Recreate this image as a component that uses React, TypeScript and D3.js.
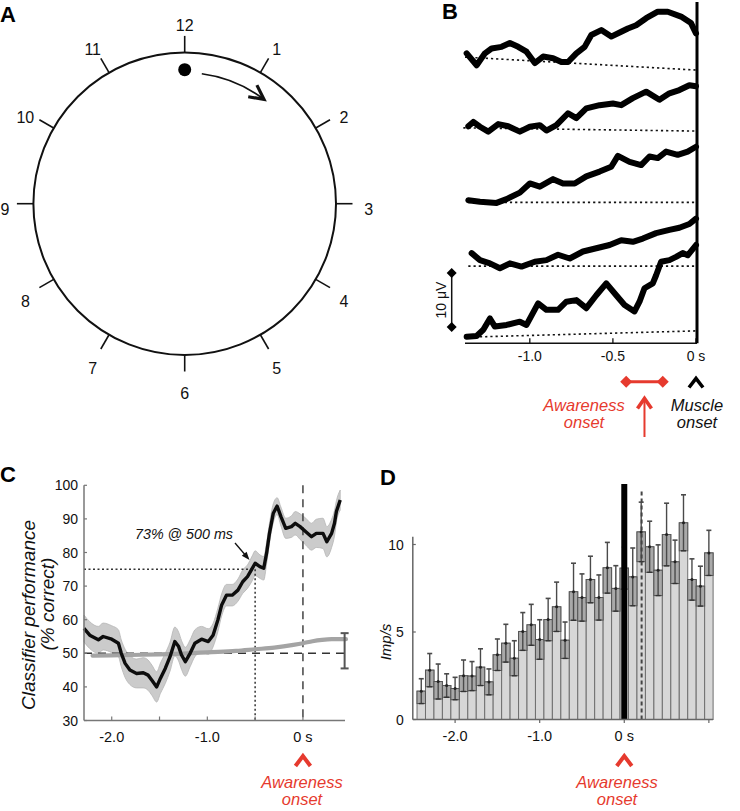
import React from 'react';
import * as d3 from 'd3';

const FONT = '"Liberation Sans", Arial, Helvetica, sans-serif';
const RED = '#e63a2e';

// ---------- Panel A data ----------
const clockHours = ['12', '1', '2', '3', '4', '5', '6', '7', '8', '9', '10', '11'];
const dotHour = 0;
const arrowHours = [0.25, 1.22];

// ---------- Panel B data (time in s, amplitude in µV) ----------
const bTicks = [-1.0, -0.5, 0];
const bTickLabels = ['-1.0', '-0.5', '0 s'];
const trace1T = [-1.38, -1.32, -1.27, -1.23, -1.17, -1.12, -1.07, -1.02, -0.97, -0.92, -0.86, -0.81, -0.77, -0.72, -0.67, -0.63, -0.57, -0.51, -0.45, -0.41, -0.36, -0.3, -0.23, -0.17, -0.09, -0.03, 0];
const trace1V = [53.7, 51.5, 53.7, 54.6, 54.9, 55.6, 54.9, 54.0, 51.9, 53.1, 52.8, 52.1, 52.1, 53.7, 54.9, 57.1, 58.0, 56.8, 57.7, 58.3, 58.9, 60.2, 61.4, 61.4, 60.5, 59.3, 57.4];
const trace2T = [-1.37, -1.34, -1.3, -1.25, -1.19, -1.13, -1.06, -1.0, -0.94, -0.9, -0.84, -0.77, -0.72, -0.66, -0.58, -0.5, -0.45, -0.38, -0.3, -0.22, -0.16, -0.1, -0.04, 0];
const trace2V = [40.2, 41.0, 40.1, 39.2, 40.6, 40.2, 39.2, 40.1, 40.4, 39.4, 40.4, 42.6, 41.7, 43.5, 44.1, 44.4, 44.1, 45.4, 46.6, 45.1, 46.3, 46.9, 47.8, 47.6];
const trace3T = [-1.37, -1.3, -1.2, -1.14, -1.06, -1.0, -0.94, -0.86, -0.8, -0.73, -0.66, -0.58, -0.51, -0.47, -0.4, -0.33, -0.28, -0.23, -0.18, -0.11, -0.05, 0];
const trace3V = [26.5, 26.2, 26.0, 26.7, 27.9, 29.6, 29.0, 30.4, 29.6, 29.6, 30.9, 31.8, 32.7, 34.7, 33.6, 33.0, 34.6, 34.3, 35.5, 34.9, 35.5, 36.4];
const trace4T = [-1.35, -1.3, -1.24, -1.18, -1.12, -1.05, -0.97, -0.9, -0.83, -0.76, -0.68, -0.6, -0.52, -0.45, -0.38, -0.32, -0.24, -0.16, -0.1, -0.04, 0];
const trace4V = [16.7, 15.4, 14.8, 13.9, 14.8, 14.2, 15.1, 15.4, 16.4, 15.7, 17.0, 17.6, 18.2, 19.1, 18.8, 19.4, 20.4, 21.0, 21.4, 22.1, 23.1];
const trace5T = [-1.38, -1.32, -1.28, -1.24, -1.21, -1.14, -1.06, -1.02, -0.95, -0.9, -0.83, -0.78, -0.72, -0.66, -0.6, -0.54, -0.48, -0.43, -0.37, -0.34, -0.31, -0.26, -0.24, -0.21, -0.16, -0.12, -0.08, -0.05, 0];
const trace5V = [1.2, 1.35, 2.5, 4.6, 3.1, 3.4, 4.0, 3.4, 7.4, 6.2, 6.2, 7.7, 8.0, 6.5, 8.9, 11.1, 8.9, 7.1, 5.9, 7.7, 10.2, 11.1, 12.6, 15.1, 15.4, 16.0, 16.7, 16.3, 18.2];
const bBaseStart = [-1.39, -1.4, -1.37, -1.37, -1.3];
const bBaseLeft = [53.0, 39.9, 26.1, 14.3, 1.2];
const bBaseRight = [50.6, 39.3, 26.1, 14.3, 2.3];
const bScaleBar = [3, 13];
const bAwareness = [-0.42, -0.2];
const bAwarenessArrow = -0.31;

// ---------- Panel C data (time in s, % correct) ----------
const cYTicks = [30, 40, 50, 60, 70, 80, 90, 100];
const cXTicks = [-2.0, -1.5, -1.0, -0.5, 0];
const cXTickLabels = ['-2.0', '', '-1.0', '', '0 s'];
const cTime = [-2.29, -2.23, -2.14, -2.09, -2.0, -1.93, -1.9, -1.86, -1.81, -1.74, -1.67, -1.62, -1.58, -1.53, -1.49, -1.44, -1.39, -1.34, -1.3, -1.27, -1.23, -1.18, -1.13, -1.06, -0.99, -0.94, -0.89, -0.85, -0.8, -0.74, -0.68, -0.63, -0.58, -0.53, -0.5, -0.45, -0.41, -0.38, -0.35, -0.31, -0.27, -0.23, -0.18, -0.12, -0.08, -0.03, 0.03, 0.09, 0.14, 0.21, 0.25, 0.3, 0.33, 0.35, 0.39];
const cMean = [57.4, 55.4, 54.0, 55.0, 54.2, 53.0, 50.0, 47.0, 45.0, 44.0, 44.2, 43.5, 42.0, 40.0, 42.6, 45.5, 49.0, 53.5, 52.0, 49.5, 47.5, 50.0, 53.0, 54.2, 53.5, 55.4, 59.9, 64.4, 67.3, 67.3, 68.8, 71.3, 72.8, 75.3, 76.8, 75.8, 75.3, 79.8, 85.7, 91.7, 93.8, 90.7, 87.2, 87.7, 88.7, 87.7, 86.2, 84.7, 85.7, 85.7, 83.2, 85.7, 88.7, 92.2, 95.6];
const cSE = [4, 4, 4, 4, 4, 4, 4, 4.2, 4.3, 4.3, 4.5, 4.5, 4.5, 4.5, 4.5, 4.5, 4.3, 4.3, 4.3, 4.3, 4.3, 4, 4, 3.8, 3.8, 3.5, 3.5, 3.3, 3.2, 3.2, 3.3, 3.5, 3.5, 3.7, 3.7, 3.5, 3.5, 3.2, 3, 2.8, 2.5, 2.8, 3, 3.2, 3.5, 3.8, 4, 4, 4.2, 4.5, 4.5, 4.2, 3.8, 3.2, 3];
const cChanceT = [-2.2, -1.8, -1.5, -1.2, -1.0, -0.7, -0.5, -0.3, -0.1, 0, 0.1, 0.2, 0.3, 0.45];
const cChanceV = [49.3, 49.5, 49.7, 50.0, 50.3, 50.7, 51.2, 51.7, 52.5, 53.0, 53.6, 54.0, 54.2, 54.2];
const cChanceErr = [45.5, 56];
const cMarker = { t: -0.5, v: 75 };

// ---------- Panel D data (bin centre in s, impulses/s) ----------
const dYTicks = [0, 5, 10];
const dXTicks = [-2.0, -1.0, 0, 1.0];
const dXTickLabels = ['-2.0', '-1.0', '0 s', ''];
const dTime = [-2.4, -2.3, -2.2, -2.1, -2.0, -1.9, -1.8, -1.7, -1.6, -1.5, -1.4, -1.3, -1.2, -1.1, -1.0, -0.9, -0.8, -0.7, -0.6, -0.5, -0.4, -0.3, -0.2, -0.1, 0.0, 0.1, 0.2, 0.3, 0.4, 0.5, 0.6, 0.7, 0.8, 0.9, 1.0];
const dMean = [1.62, 2.82, 2.17, 1.94, 1.77, 2.5, 2.48, 2.99, 2.15, 3.7, 4.36, 3.5, 5.03, 5.41, 4.57, 5.71, 6.44, 4.53, 7.3, 6.97, 8.0, 6.97, 8.67, 7.49, 8.65, 8.15, 10.72, 9.87, 8.53, 10.57, 9.01, 11.24, 8.0, 7.62, 9.52];
const dErr = [0.71, 0.95, 1.0, 0.67, 0.64, 0.9, 0.83, 1.05, 0.74, 0.9, 1.08, 1.0, 1.08, 1.17, 1.13, 1.21, 1.41, 1.04, 1.63, 1.35, 1.33, 1.29, 1.45, 1.3, 1.2, 1.65, 1.7, 1.46, 1.45, 1.79, 1.24, 1.6, 1.18, 1.14, 1.29];
const dBinWidth = 0.1;
const dOnsetLines = [0, 0.205];

function Caret({ x, y, color, w = 7.5, h = 10, sw = 4 }: any) {
  return (
    <polyline points={`${x - w},${y + h / 2} ${x},${y - h / 2} ${x + w},${y + h / 2}`} fill="none" stroke={color} strokeWidth={sw} strokeLinejoin="miter" />
  );
}

function OnsetLabel({ x, y, color, lines }: any) {
  return (
    <text x={x} y={y} fill={color} fontSize={16.5} fontStyle="italic" textAnchor="middle">
      <tspan x={x} dy={0}>{lines[0]}</tspan>
      <tspan x={x} dy={17}>{lines[1]}</tspan>
    </text>
  );
}

function PanelA() {
  const cx = 184.7, cy = 203.7, R = 151.3;
  const ang = d3.scaleLinear().domain([0, 12]).range([0, 2 * Math.PI]);
  const pt = (h: number, r: number) => [cx + r * Math.sin(ang(h)), cy - r * Math.cos(ang(h))];
  const rArrow = 131;
  const p = d3.path();
  p.arc(cx, cy, rArrow, ang(arrowHours[0]) - Math.PI / 2, ang(arrowHours[1]) - Math.PI / 2, false);
  const end = pt(arrowHours[1], rArrow);
  const th = ang(arrowHours[1]);
  const tan = [Math.cos(th), Math.sin(th)];
  const tip = [end[0] + tan[0] * 1.5, end[1] + tan[1] * 1.5];
  const armLen = 16, half = (27 * Math.PI) / 180;
  const rot = (v: number[], a: number) => [v[0] * Math.cos(a) - v[1] * Math.sin(a), v[0] * Math.sin(a) + v[1] * Math.cos(a)];
  const back = [-tan[0], -tan[1]];
  const a1 = rot(back, half), a2 = rot(back, -half);
  const dot = pt(dotHour, 134);
  return (
    <g>
      <text x={0} y={22} fontSize={22} fontWeight="bold">A</text>
      <circle cx={cx} cy={cy} r={R} fill="none" stroke="#111" strokeWidth={2} />
      {clockHours.map((lab, i) => {
        const a = pt(i, R), b = pt(i, R + 16.5), l = pt(i, 184);
        return (
          <g key={lab}>
            <line x1={a[0]} y1={a[1]} x2={b[0]} y2={b[1]} stroke="#111" strokeWidth={1.6} />
            <text x={Math.max(l[0], 5)} y={l[1] + 5.5} fontSize={16} textAnchor="middle" dominantBaseline="central" fill="#111">{lab}</text>
          </g>
        );
      })}
      <circle cx={dot[0]} cy={dot[1]} r={6.5} fill="#000" />
      <path d={p.toString()} fill="none" stroke="#111" strokeWidth={1.6} />
      <polyline
        points={`${tip[0] + a1[0] * armLen},${tip[1] + a1[1] * armLen} ${tip[0]},${tip[1]} ${tip[0] + a2[0] * armLen},${tip[1] + a2[1] * armLen}`}
        fill="none" stroke="#111" strokeWidth={3.2} strokeLinejoin="miter" />
    </g>
  );
}

function PanelB() {
  const x = d3.scaleLinear().domain([-1.39, 0]).range([465, 696]);
  const y = d3.scaleLinear().domain([0, 10]).range([343.3, 289.3]);
  const traces = [
    [trace1T, trace1V], [trace2T, trace2V], [trace3T, trace3V], [trace4T, trace4V], [trace5T, trace5V],
  ];
  const line = d3.line<[number, number]>().x((d) => x(d[0])).y((d) => y(d[1])).curve(d3.curveLinear);
  const axisY = y(0);
  const sbX = 451.7;
  const diamond = (cxv: number, cyv: number, s: number) => `M${cxv},${cyv - s} L${cxv + s},${cyv} L${cxv},${cyv + s} L${cxv - s},${cyv} Z`;
  const awY = 381.7;
  return (
    <g>
      <text x={442} y={19} fontSize={22} fontWeight="bold">B</text>
      {bBaseLeft.map((v, i) => (
        <line key={'b' + i} x1={x(bBaseStart[i])} y1={y(v)} x2={x(0)} y2={y(bBaseRight[i])} stroke="#111" strokeWidth={1.6} strokeDasharray="2.2,3" />
      ))}
      {traces.map(([ts, vs], i) => (
        <path key={'t' + i} d={line(ts.map((t, j) => [t, vs[j]] as [number, number])) || ''} fill="none" stroke="#000" strokeWidth={6} strokeLinejoin="round" strokeLinecap="round" />
      ))}
      <line x1={x(-1.39)} y1={axisY} x2={x(0) + 1} y2={axisY} stroke="#111" strokeWidth={1.5} />
      {bTicks.map((t, i) => (
        <g key={'xt' + i}>
          <line x1={x(t)} y1={axisY} x2={x(t)} y2={axisY - 5} stroke="#111" strokeWidth={1.3} />
          <text x={x(t)} y={axisY + 18} fontSize={14} textAnchor="middle" fill="#111">{bTickLabels[i]}</text>
        </g>
      ))}
      <line x1={x(0) + 1} y1={2} x2={x(0) + 1} y2={axisY} stroke="#000" strokeWidth={3} />
      {/* scale bar */}
      <line x1={sbX} y1={y(bScaleBar[0])} x2={sbX} y2={y(bScaleBar[1])} stroke="#111" strokeWidth={1.5} />
      <path d={diamond(sbX, y(bScaleBar[0]), 5)} fill="#000" />
      <path d={diamond(sbX, y(bScaleBar[1]), 5)} fill="#000" />
      <text transform={`translate(${sbX - 6},${(y(bScaleBar[0]) + y(bScaleBar[1])) / 2}) rotate(-90)`} fontSize={14} textAnchor="middle" fill="#111">10 μV</text>
      {/* awareness range */}
      <line x1={x(bAwareness[0])} y1={awY} x2={x(bAwareness[1])} y2={awY} stroke={RED} strokeWidth={3} />
      <path d={diamond(x(bAwareness[0]), awY, 6)} fill={RED} />
      <path d={diamond(x(bAwareness[1]), awY, 6)} fill={RED} />
      <line x1={x(bAwarenessArrow)} y1={399} x2={x(bAwarenessArrow)} y2={437} stroke={RED} strokeWidth={2} />
      <Caret x={x(bAwarenessArrow)} y={403.5} color={RED} w={7} h={10} sw={3.6} />
      <Caret x={x(0)} y={383} color="#000" w={7} h={9} sw={3.6} />
      <OnsetLabel x={584} y={411} color={RED} lines={['Awareness', 'onset']} />
      <OnsetLabel x={697} y={411} color="#111" lines={['Muscle', 'onset']} />
    </g>
  );
}

function PanelC() {
  const x = d3.scaleLinear().domain([-2.29, 0.44]).range([84, 345]);
  const y = d3.scaleLinear().domain([30, 100]).range([720.5, 485.3]);
  const pts = cTime.map((t, i) => ({ t, m: cMean[i], s: cSE[i] }));
  const area = d3.area<any>().x((d) => x(d.t)).y0((d) => y(d.m - d.s)).y1((d) => y(d.m + d.s)).curve(d3.curveMonotoneX);
  const line = d3.line<any>().x((d) => x(d.t)).y((d) => y(d.m)).curve(d3.curveLinear);
  const chance = d3.line<number>().x((d, i) => x(cChanceT[i])).y((d) => y(d)).curve(d3.curveMonotoneX);
  const x0 = x.range()[0], x1 = x.range()[1];
  const errX = x(0.436);
  return (
    <g>
      <text x={0} y={482} fontSize={22} fontWeight="bold">C</text>
      <path d={area(pts) || ''} fill="#cbcbcb" stroke="#b5b5b5" strokeWidth={0.8} />
      <line x1={x0} y1={y(50)} x2={x1} y2={y(50)} stroke="#333" strokeWidth={1.5} strokeDasharray="8,6" />
      <line x1={x(0)} y1={y(100)} x2={x(0)} y2={y(30)} stroke="#444" strokeWidth={1.5} strokeDasharray="8,6" />
      <line x1={x0} y1={y(cMarker.v)} x2={x(cMarker.t)} y2={y(cMarker.v)} stroke="#333" strokeWidth={1.5} strokeDasharray="2,2.5" />
      <line x1={x(cMarker.t)} y1={y(cMarker.v)} x2={x(cMarker.t)} y2={y(30)} stroke="#333" strokeWidth={1.5} strokeDasharray="2,2.5" />
      <path d={chance(cChanceV) || ''} fill="none" stroke="#a4a4a4" strokeWidth={4.2} strokeLinecap="round" />
      <path d={line(pts) || ''} fill="none" stroke="#0d0d0d" strokeWidth={3.4} strokeLinejoin="round" />
      {/* chance error bar */}
      <line x1={errX} y1={y(cChanceErr[0])} x2={errX} y2={y(cChanceErr[1])} stroke="#555" strokeWidth={2} />
      <line x1={errX - 4} y1={y(cChanceErr[0])} x2={errX + 4} y2={y(cChanceErr[0])} stroke="#555" strokeWidth={2} />
      <line x1={errX - 4} y1={y(cChanceErr[1])} x2={errX + 4} y2={y(cChanceErr[1])} stroke="#555" strokeWidth={2} />
      {/* axes */}
      <line x1={x0} y1={y(100)} x2={x0} y2={y(30)} stroke="#777" strokeWidth={1.5} />
      <line x1={x0} y1={y(30)} x2={x1} y2={y(30)} stroke="#777" strokeWidth={1.5} />
      {cYTicks.map((v) => (
        <g key={'cy' + v}>
          <line x1={x0} y1={y(v)} x2={x0 + 3} y2={y(v)} stroke="#777" strokeWidth={1.2} />
          <text x={x0 - 6} y={y(v)} fontSize={14} textAnchor="end" dominantBaseline="central" fill="#111">{v}</text>
        </g>
      ))}
      {cXTicks.map((t, i) => (
        <g key={'cx' + i}>
          <line x1={x(t)} y1={y(30)} x2={x(t)} y2={y(30) - 4} stroke="#777" strokeWidth={1.2} />
          {cXTickLabels[i] && <text x={x(t)} y={y(30) + 21} fontSize={14.5} textAnchor="middle" fill="#111">{cXTickLabels[i]}</text>}
        </g>
      ))}
      <text transform="translate(35,615) rotate(-90)" fontSize={19} fontStyle="italic" textAnchor="middle" fill="#111">Classifier performance</text>
      <text transform="translate(54,604) rotate(-90)" fontSize={19} fontStyle="italic" textAnchor="middle" fill="#111">(% correct)</text>
      <text x={135} y={539} fontSize={14.3} fontStyle="italic" fill="#111">73% @ 500 ms</text>
      <line x1={235} y1={543} x2={247} y2={557} stroke="#111" strokeWidth={1.3} />
      <path d="M249.5,560 L241.8,555.8 L246.6,551.7 Z" fill="#111" />
      <Caret x={x(0)} y={761} color={RED} w={7.5} h={10} sw={4} />
      <OnsetLabel x={302} y={788} color={RED} lines={['Awareness', 'onset']} />
    </g>
  );
}

function PanelD() {
  const x = d3.scaleLinear().domain([-2.5, 1.05]).range([412.8, 713.1]);
  const y = d3.scaleLinear().domain([0, 10]).range([719.5, 544.5]);
  const bw = x(dBinWidth) - x(0);
  const yTop = y(10.45);
  return (
    <g>
      <text x={380} y={485} fontSize={22} fontWeight="bold">D</text>
      {dTime.map((t, i) => (
        <rect key={'bar' + i} x={x(t) - bw / 2} y={y(dMean[i])} width={bw} height={y(0) - y(dMean[i])} fill="#d7d7d7" stroke="#6f6f6f" strokeWidth={1} />
      ))}
      {dTime.map((t, i) => {
        const xc = x(t);
        const m = dMean[i], e = dErr[i];
        return (
          <g key={'err' + i}>
            <rect x={xc - bw / 2} y={y(m)} width={bw} height={y(m - e) - y(m)} fill="#a9a9a9" stroke="#555" strokeWidth={1} />
            <line x1={xc} y1={y(m - e)} x2={xc} y2={y(m + e)} stroke="#4a4a4a" strokeWidth={1.4} />
            <line x1={xc - 2.5} y1={y(m + e)} x2={xc + 2.5} y2={y(m + e)} stroke="#4a4a4a" strokeWidth={1.6} />
            <line x1={xc - 2.5} y1={y(m - e)} x2={xc + 2.5} y2={y(m - e)} stroke="#333" strokeWidth={1.4} />
            <circle cx={xc} cy={y(m)} r={1.5} fill="#222" />
          </g>
        );
      })}
      <line x1={x(dOnsetLines[0])} y1={y(0)} x2={x(dOnsetLines[0])} y2={484} stroke="#000" strokeWidth={6} />
      <line x1={x(dOnsetLines[1])} y1={y(0)} x2={x(dOnsetLines[1])} y2={490} stroke="#444" strokeWidth={2} strokeDasharray="4,3" />
      <line x1={x(-2.5)} y1={y(0)} x2={x(1.05)} y2={y(0)} stroke="#666" strokeWidth={1.5} />
      <line x1={x(-2.5)} y1={y(0)} x2={x(-2.5)} y2={yTop} stroke="#666" strokeWidth={1.5} />
      {dYTicks.map((v) => (
        <g key={'dy' + v}>
          <line x1={x(-2.5)} y1={y(v)} x2={x(-2.5) + 3} y2={y(v)} stroke="#666" strokeWidth={1.2} />
          <text x={x(-2.5) - 9} y={y(v)} fontSize={14} textAnchor="end" dominantBaseline="central" fill="#111">{v}</text>
        </g>
      ))}
      {dXTicks.map((t, i) => (
        <g key={'dx' + i}>
          <line x1={x(t)} y1={y(0)} x2={x(t)} y2={y(0) + 3.5} stroke="#666" strokeWidth={1.2} />
          {dXTickLabels[i] && <text x={x(t)} y={y(0) + 21} fontSize={14.5} textAnchor="middle" fill="#111">{dXTickLabels[i]}</text>}
        </g>
      ))}
      <text transform="translate(391,642) rotate(-90)" fontSize={15} fontStyle="italic" textAnchor="middle" fill="#111">Imp/s</text>
      <Caret x={x(0)} y={761} color={RED} w={7.5} h={10} sw={4} />
      <OnsetLabel x={617} y={788} color={RED} lines={['Awareness', 'onset']} />
    </g>
  );
}

export default function App() {
  return (
    <svg width={740} height={811} style={{ position: 'absolute', left: 0, top: 0, background: '#fff' }} fontFamily={FONT}>
      <rect x={0} y={0} width={740} height={811} fill="#fff" />
      <PanelA />
      <PanelB />
      <PanelC />
      <PanelD />
    </svg>
  );
}
